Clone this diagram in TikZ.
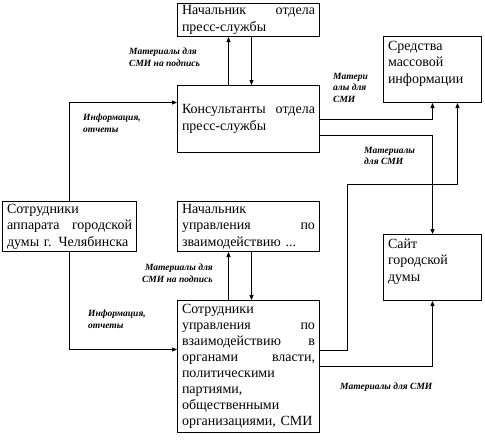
\documentclass[tikz,border=0pt]{standalone}
\usepackage{fontspec}
\setmainfont{Liberation Serif}
\newfontfamily\tnr{Liberation Serif}
\usetikzlibrary{arrows.meta}
\begin{document}
\begin{tikzpicture}[x=1pt,y=-1pt,
  box/.style={draw, line width=1pt, anchor=north west, inner xsep=4.5pt, inner ysep=2pt, align=left, font=\tnr\fontsize{14}{16.5}\selectfont},
  lbl/.style={anchor=north west, inner sep=0pt, align=left, font=\tnr\fontsize{9.5}{11.5}\selectfont\bfseries\itshape},
  arr/.style={line width=0.9pt, -{Triangle[length=5pt,width=4pt]}}]
\useasboundingbox (0,0) rectangle (485,445);
% boxes
\node[box, text width=133pt, minimum width=142pt, minimum height=33pt] (nach) at (177,3) {Начальник\hfill отдела\\пресс-службы};
\node[box, text width=133pt, minimum width=142pt, minimum height=67pt] (kons) at (177,85) {Консультанты\hfill отдела\\пресс-службы};
\node[box, text width=89pt, minimum width=98pt, minimum height=66pt] (smi) at (383,36) {Средства\\массовой\\информации\par\vspace{12pt}\hrule height 0pt};
\node[box, text width=125pt, minimum width=134pt, minimum height=50pt] (sotr) at (2,201) {Сотрудники\\аппарата\hfill городской\\думы г. Челябинска};
\node[box, text width=133pt, minimum width=142pt, minimum height=50pt] (nach2) at (177,201) {Начальник\\управления\hfill по\\зваимодействию ...};
\node[box, text width=89pt, minimum width=98pt, minimum height=66pt] (sayt) at (383,234) {Сайт\\городской\\думы\par\vspace{12pt}\hrule height 0pt};
\node[box, text width=133pt, minimum width=142pt, minimum height=132pt, font=\tnr\fontsize{14}{16.1}\selectfont] (upr) at (177,300) {Сотрудники\\управления\hfill по\\взаимодействию\hfill в\\органами\hfill власти,\\политическими\\партиями,\\общественными\\организациями, СМИ};
% labels
\node[lbl] (l1) at (129,48) {Материалы для\\СМИ на подпись};
\node[lbl] (l2) at (83,114) {Информация,\\отчеты};
\node[lbl] (l3) at (333,73) {Матери\\алы для\\СМИ};
\node[lbl] (l4) at (364,147) {Материалы\\для СМИ};
\node[lbl, anchor=north east, align=right] (l5) at (213,264) {Материалы для\\СМИ на подпись};
\node[lbl] (l6) at (88,310) {Информация,\\отчеты};
\node[lbl] (l7) at (340,383) {Материалы для СМИ};
% connectors
\draw[arr] ([xshift=-20pt]kons.north) -- ([xshift=-20pt]nach.south);
\draw[arr] ([xshift=3pt]nach.south) -- ([xshift=3pt]kons.north);
\draw[arr] (sotr.north) |- ([yshift=16.5pt]kons.west);
\draw[arr] (sotr.south) |- ([yshift=17pt]upr.west);
\draw[arr] (kons.east) -| (smi.south);
\draw[arr] ([yshift=-16.5pt]kons.east) -| (sayt.north);
\coordinate (j) at (347,184);
\draw[arr] ([yshift=16pt]upr.east) -| (j) -| ([xshift=25pt]smi.south);
\draw[arr] (upr.east) -| (sayt.south);
\draw[arr] ([xshift=-20pt]upr.north) -- ([xshift=-20pt]nach2.south);
\draw[arr] ([xshift=3pt]nach2.south) -- ([xshift=3pt]upr.north);
\end{tikzpicture}
\end{document}
